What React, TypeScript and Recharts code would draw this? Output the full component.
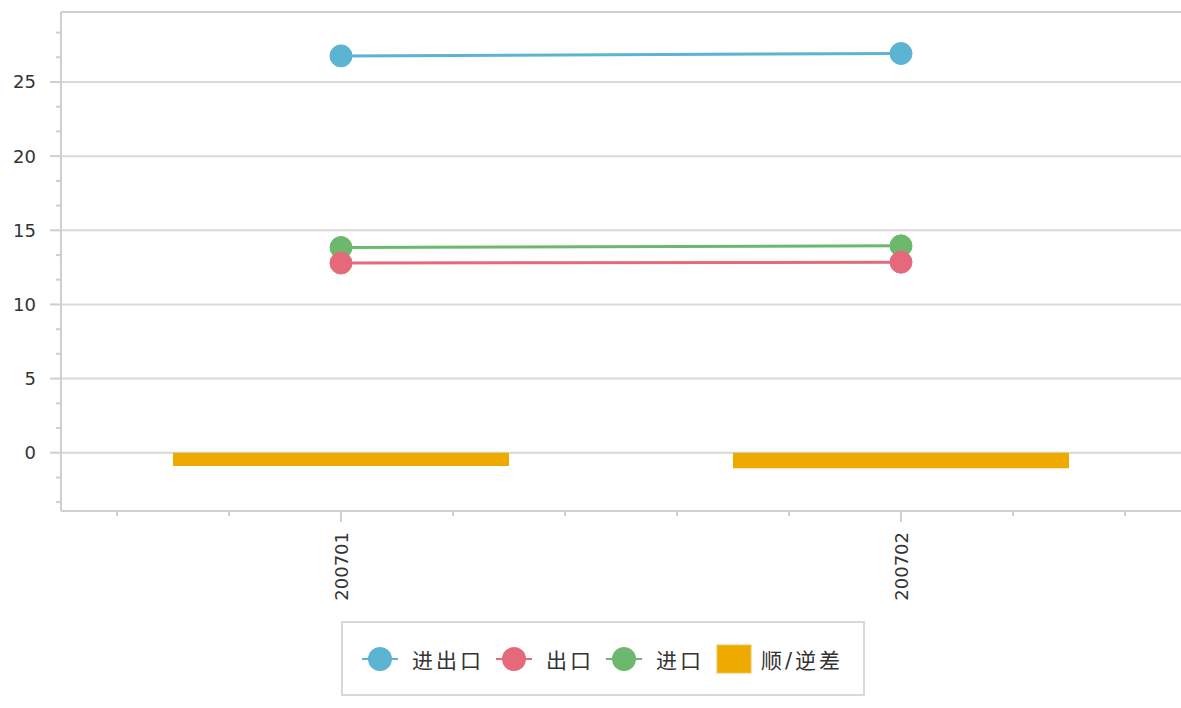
import React from "react";
import {
  ComposedChart,
  Bar,
  Line,
  XAxis,
  YAxis,
  CartesianGrid,
  Legend,
  ReferenceLine,
} from "recharts";

// 数据
const months = ["200701", "200702"];
const totalTrade = [26.76, 26.92]; // 进出口
const exportsVals = [12.79, 12.85]; // 出口
const importsVals = [13.84, 13.95]; // 进口
const balance = [-0.9, -1.05]; // 顺/逆差

const yMajorTicks = [0, 5, 10, 15, 20, 25];
const yAllTicks = [
  -3.33, -1.67, 0, 1.67, 3.33, 5, 6.67, 8.33, 10, 11.67, 13.33, 15, 16.67, 18.33, 20, 21.67,
  23.33, 25, 26.67, 28.33,
];
const yDomain = [-3.93, 29.72];
// 每个类别带内的次刻度（相对带宽的位置）
const xMinorSteps = [-0.4, -0.2, 0.2, 0.4];

const COLORS = {
  total: "#5ab4d2",
  exp: "#e46a7b",
  imp: "#6cb96e",
  bal: "#efaa00",
};

const FONT = '"DejaVu Sans", "Noto Sans CJK SC", sans-serif';
const AXIS = "#cfcfcf";

const data = months.map((m, i) => ({
  month: m,
  total: totalTrade[i],
  exp: exportsVals[i],
  imp: importsVals[i],
  bal: balance[i],
}));

const legendItems = [
  { name: "进出口", color: COLORS.total, kind: "line" },
  { name: "出口", color: COLORS.exp, kind: "line" },
  { name: "进口", color: COLORS.imp, kind: "line" },
  { name: "顺/逆差", color: COLORS.bal, kind: "bar" },
];

const Y_TICK_SIZE = 11;
const Y_TICK_MARGIN = 14;
const X_TICK_SIZE = 11;
const X_TICK_MARGIN = 10;

// y 轴：主刻度带数字，次刻度只画短线
const ValueTick = (props: any) => {
  const { x, y, payload } = props;
  const isMajor = yMajorTicks.includes(payload.value);
  const axisX = x + Y_TICK_SIZE + Y_TICK_MARGIN;
  return (
    <g>
      <line
        x1={isMajor ? axisX - Y_TICK_SIZE : axisX - 5}
        x2={axisX}
        y1={y}
        y2={y}
        stroke={AXIS}
        strokeWidth={2}
      />
      {isMajor && (
        <text
          x={x}
          y={y}
          textAnchor="end"
          dominantBaseline="central"
          fill="#333"
          fontSize={18}
          fontFamily={FONT}
        >
          {payload.value}
        </text>
      )}
    </g>
  );
};

const MonthTick = (props: any) => {
  const { x, y, payload, width } = props;
  const band = width / months.length;
  const axisY = y - X_TICK_SIZE - X_TICK_MARGIN;
  return (
    <g>
      {xMinorSteps.map((s) => (
        <line
          key={s}
          x1={x + s * band}
          x2={x + s * band}
          y1={axisY}
          y2={axisY + 5}
          stroke={AXIS}
          strokeWidth={2}
        />
      ))}
      <text
        x={x}
        y={y}
        transform={`rotate(-90 ${x} ${y})`}
        textAnchor="end"
        dominantBaseline="central"
        fill="#333"
        fontSize={18}
        fontFamily={FONT}
      >
        {payload.value}
      </text>
    </g>
  );
};

const LegendBox = () => (
  <div style={{ paddingBottom: 12 }}>
    <div
      style={{
        marginLeft: 341,
        width: 524,
        height: 75,
        boxSizing: "border-box",
        border: "2px solid #d8d8d8",
        display: "flex",
        alignItems: "center",
        paddingLeft: 19,
        fontFamily: FONT,
        fontSize: 21,
        letterSpacing: 3,
        color: "#333",
      }}
    >
      {legendItems.map((it) => (
        <div key={it.name} style={{ display: "flex", alignItems: "center", marginRight: 12 }}>
          {it.kind === "line" ? (
            <svg width={36} height={28} style={{ marginRight: 14 }}>
              <line x1={0} y1={14} x2={36} y2={14} stroke={it.color} strokeWidth={2} />
              <circle cx={18} cy={14} r={12} fill={it.color} />
            </svg>
          ) : (
            <svg width={36} height={30} style={{ marginRight: 9 }}>
              <rect x={1} y={1} width={34} height={28} fill={it.color} stroke="#e8c35a" strokeWidth={1} />
            </svg>
          )}
          <span>{it.name}</span>
        </div>
      ))}
    </div>
  </div>
);

export default function App() {
  return (
    <div style={{ position: "absolute", left: 0, top: 0, background: "#fff" }}>
      <ComposedChart
        width={1181}
        height={708}
        data={data}
        margin={{ top: 12, right: 0, left: 0, bottom: 0 }}
        barCategoryGap="20%"
      >
        <CartesianGrid
          xAxisId="cat"
          yAxisId="main"
          vertical={false}
          horizontalValues={yMajorTicks}
          stroke="#d9d9d9"
          strokeWidth={2}
        />
        <XAxis
          xAxisId="cat"
          dataKey="month"
          height={110}
          tickSize={X_TICK_SIZE}
          tickMargin={X_TICK_MARGIN}
          tick={<MonthTick />}
          tickLine={{ stroke: AXIS, strokeWidth: 2 }}
          axisLine={{ stroke: AXIS, strokeWidth: 2 }}
          interval={0}
        />
        <YAxis
          yAxisId="main"
          type="number"
          domain={yDomain}
          allowDataOverflow
          ticks={yAllTicks}
          interval={0}
          width={61}
          tickSize={Y_TICK_SIZE}
          tickMargin={Y_TICK_MARGIN}
          tick={<ValueTick />}
          tickLine={false}
          axisLine={{ stroke: AXIS, strokeWidth: 2 }}
        />
        <ReferenceLine
          xAxisId="cat"
          yAxisId="main"
          y={yDomain[1]}
          stroke={AXIS}
          strokeWidth={2}
        />
        <Bar
          xAxisId="cat"
          yAxisId="main"
          dataKey="bal"
          name="顺/逆差"
          fill={COLORS.bal}
          isAnimationActive={false}
        />
        <Line
          xAxisId="cat"
          yAxisId="main"
          dataKey="imp"
          name="进口"
          stroke={COLORS.imp}
          strokeWidth={3}
          dot={{ r: 11, fill: COLORS.imp, stroke: COLORS.imp, strokeWidth: 1 }}
          isAnimationActive={false}
        />
        <Line
          xAxisId="cat"
          yAxisId="main"
          dataKey="exp"
          name="出口"
          stroke={COLORS.exp}
          strokeWidth={3}
          dot={{ r: 11, fill: COLORS.exp, stroke: COLORS.exp, strokeWidth: 1 }}
          isAnimationActive={false}
        />
        <Line
          xAxisId="cat"
          yAxisId="main"
          dataKey="total"
          name="进出口"
          stroke={COLORS.total}
          strokeWidth={3}
          dot={{ r: 11, fill: COLORS.total, stroke: COLORS.total, strokeWidth: 1 }}
          isAnimationActive={false}
        />
        <Legend
          verticalAlign="bottom"
          wrapperStyle={{ left: 0, bottom: 0, width: 1181 }}
          content={<LegendBox />}
        />
      </ComposedChart>
    </div>
  );
}
